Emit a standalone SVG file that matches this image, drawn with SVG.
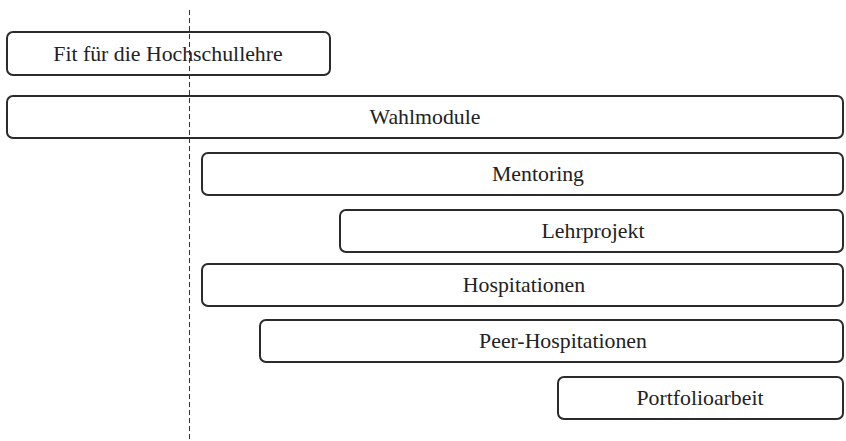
<svg xmlns="http://www.w3.org/2000/svg" width="846" height="441" viewBox="0 0 846 441">
  <style>
    .box { fill: #ffffff; stroke: #2b2b2b; stroke-width: 2; }
    .lbl { font-family: "Liberation Serif", "Times New Roman", serif; font-size: 21.8px; fill: #222; text-anchor: middle; dominant-baseline: central; }
    .guide { stroke: #333; stroke-width: 1; stroke-dasharray: 5 3; fill: none; }
  </style>
  <rect width="846" height="441" fill="#ffffff"/>
  <g id="n-fit">
    <rect class="box" x="7" y="32" width="323" height="43" rx="6"/>
    <text class="lbl" x="168" y="54">Fit für die Hochschullehre</text>
  </g>
  <g id="n-wahlmodule">
    <rect class="box" x="7" y="96" width="836" height="42" rx="6"/>
    <text class="lbl" x="425" y="117">Wahlmodule</text>
  </g>
  <g id="n-mentoring">
    <rect class="box" x="202" y="153" width="641" height="42" rx="6"/>
    <text class="lbl" x="538" y="174">Mentoring</text>
  </g>
  <g id="n-lehrprojekt">
    <rect class="box" x="340" y="210" width="503" height="42" rx="6"/>
    <text class="lbl" x="593" y="231">Lehrprojekt</text>
  </g>
  <g id="n-hospitationen">
    <rect class="box" x="202" y="264" width="641" height="42" rx="6"/>
    <text class="lbl" x="524" y="285">Hospitationen</text>
  </g>
  <g id="n-peer">
    <rect class="box" x="260" y="320" width="583" height="42" rx="6"/>
    <text class="lbl" x="563" y="341">Peer-Hospitationen</text>
  </g>
  <g id="n-portfolio">
    <rect class="box" x="558" y="377" width="285" height="42" rx="6"/>
    <text class="lbl" x="700" y="398">Portfolioarbeit</text>
  </g>
  <g id="connectors">
    <line class="guide" x1="189.5" y1="10" x2="189.5" y2="441"/>
  </g>
</svg>
